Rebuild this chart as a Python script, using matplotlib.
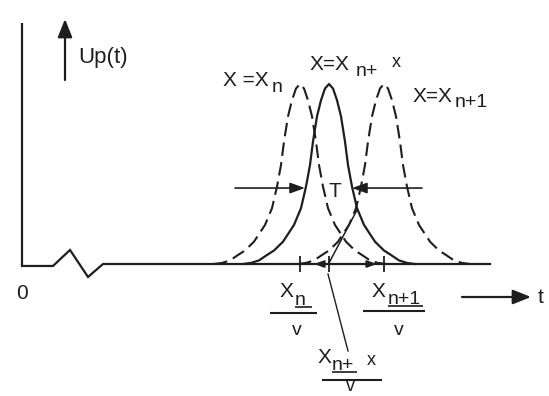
import matplotlib
matplotlib.use("Agg")
import matplotlib.pyplot as plt
import numpy as np

plt.rcParams["font.family"] = ["Liberation Sans", "DejaVu Sans"]

INK = "#1e1e1e"
W, H = 549, 396
BASE_PX = 264.0   # pixel row of the zero level
UNIT_PX = 180.0   # pixels per unit of amplitude

# pulse arrival times on the t axis for x = x_n, x_n + x, x_{n+1}
pulse_names = ["x_n", "x_n + x", "x_n+1"]
pulse_centres = [300, 329, 384]
pulse_dashed = [True, False, True]

# one half of the pulse profile: distance from the peak and normalised amplitude
profile_offset = [0, 4, 8, 12, 16, 19, 23, 28, 35, 46, 55, 62, 70, 78, 86]
profile_height = [1.0, 0.975, 0.91, 0.82, 0.68, 0.55, 0.43, 0.31, 0.217,
                  0.124, 0.075, 0.05, 0.02, 0.006, 0.0]
half_level = 0.422

# signal trace ahead of the pulses, including the axis-break zigzag
trace_t = [22, 53, 70, 88, 103, 490]
trace_u = [-0.011, -0.011, 0.078, -0.072, 0.0, 0.0]


def py(ypix):
    """Convert a pixel row into amplitude units."""
    return (BASE_PX - ypix) / UNIT_PX


fig = plt.figure(figsize=(W / 100, H / 100), dpi=100)
ax = fig.add_axes([0, 0, 1, 1])
ax.set_xlim(0, W)
ax.set_ylim(py(H), py(0))
ax.axis("off")

# vertical axis and baseline trace
ax.plot([22, 22], [py(266), py(23)], color=INK, lw=1.6, solid_capstyle="butt")
ax.plot(trace_t, trace_u, color=INK, lw=1.6, solid_joinstyle="miter")

# pulses
off = np.array(profile_offset, dtype=float)
hgt = np.array(profile_height, dtype=float)
for c, dashed in zip(pulse_centres, pulse_dashed):
    t = np.concatenate([c - off[::-1], c + off[1:]])
    u = np.concatenate([hgt[::-1], hgt[1:]])
    if dashed:
        ax.plot(t, u, color=INK, lw=1.5, linestyle=(0, (6.5, 3)))
    else:
        ax.plot(t, u, color=INK, lw=1.6)

# ticks at the arrival times
ax.vlines(pulse_centres, py(272), py(256), color=INK, lw=1.3)

arrow_kw = dict(color=INK, lw=1.2, shrinkA=0, shrinkB=0)
head = "-|>,head_length=0.5,head_width=0.18"

# pulse width T marked at the half level
ax.annotate("", xy=(305, half_level), xytext=(235, half_level),
            arrowprops=dict(arrowstyle=head, mutation_scale=18, **arrow_kw))
ax.annotate("", xy=(352, half_level), xytext=(422, half_level),
            arrowprops=dict(arrowstyle=head, mutation_scale=18, **arrow_kw))
ax.text(335, py(197), "T", fontsize=15, ha="center", va="baseline", color=INK)

# small arrowheads on the baseline
ax.annotate("", xy=(314, 0), xytext=(326, 0),
            arrowprops=dict(arrowstyle=head, mutation_scale=12, **arrow_kw))
ax.annotate("", xy=(377, 0), xytext=(365, 0),
            arrowprops=dict(arrowstyle=head, mutation_scale=12, **arrow_kw))

# construction line and leader line
ax.plot([329, 357], [py(263), py(210)], color=INK, lw=1.1)
ax.plot([328, 348], [py(274), py(351)], color=INK, lw=1.0)

# U_p(t) arrow and t arrow
big_head = "-|>,head_length=0.55,head_width=0.22"
ax.annotate("", xy=(65, py(19)), xytext=(65, py(80)),
            arrowprops=dict(arrowstyle=big_head, mutation_scale=20, color=INK,
                            lw=1.6, shrinkA=0, shrinkB=0))
ax.annotate("", xy=(531, py(297)), xytext=(462, py(297)),
            arrowprops=dict(arrowstyle=big_head, mutation_scale=20, color=INK,
                            lw=1.6, shrinkA=0, shrinkB=0))


def txt(x, ypix, s, size=15, ha="left", va="baseline"):
    ax.text(x, py(ypix), s, fontsize=size, ha=ha, va=va, color=INK)


def rule(x0, x1, ypix, lw=1.5):
    ax.plot([x0, x1], [py(ypix), py(ypix)], color=INK, lw=lw, solid_capstyle="butt")


txt(22, 299, "0", ha="center")
txt(78, 63, "Up(t)", 16)
txt(541, 303, "t", ha="center")

# curve labels
txt(223, 86, "X =X")
txt(272, 92, "n", 14)
txt(310, 70, "X=X")
txt(356, 76, "n+", 14)
txt(392, 67, "x", 13)
txt(413, 102, "X=X")
txt(455, 107, "n+1", 14)

# arrival-time fractions on the t axis
txt(280, 297, "X")
txt(295, 305, "n", 14)
rule(295, 312, 307, 1.2)
rule(270, 317, 313)
txt(297, 335, "v", 14, ha="center")

txt(372, 297, "X")
txt(388, 304, "n+1", 14)
rule(388, 423, 306, 1.2)
rule(363, 425, 311)
txt(399, 335, "v", 14, ha="center")

txt(318, 363, "X")
txt(332, 370, "n+", 14)
txt(367, 365, "x", 13)
rule(332, 357, 372, 1.2)
rule(322, 382, 380)
txt(350, 395, "v", 13, ha="center", va="bottom")

fig.savefig("out.png", dpi=100, facecolor="white")
